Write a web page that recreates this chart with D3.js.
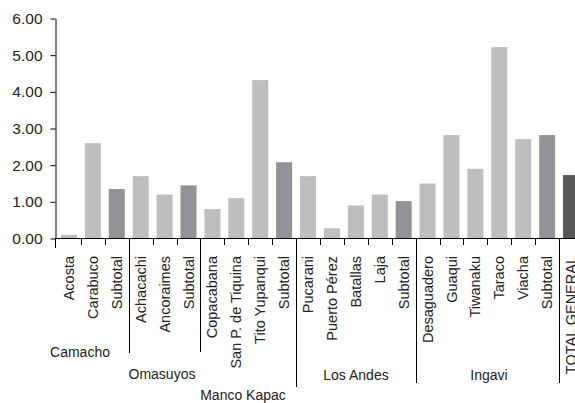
<!DOCTYPE html>
<html><head><meta charset="utf-8">
<script src="https://cdn.jsdelivr.net/npm/d3@7"></script>
<style>body{margin:0;background:#fff}svg{display:block}</style>
</head><body>
<script>
const categories = ["Acosta","Carabuco","Subtotal","Achacachi","Ancoraimes","Subtotal","Copacabana","San P. de Tiquina","Tito Yupanqui","Subtotal","Pucarani","Puerto Pérez","Batallas","Laja","Subtotal","Desaguadero","Guaqui","Tiwanaku","Taraco","Viacha","Subtotal","TOTAL GENERAL"];
const values = [0.1,2.6,1.35,1.7,1.2,1.45,0.8,1.1,4.32,2.08,1.7,0.28,0.9,1.2,1.02,1.5,2.82,1.9,5.22,2.71,2.82,1.73];
const kinds = ["m","m","s","m","m","s","m","m","m","s","m","m","m","m","s","m","m","m","m","m","s","t"];
const groups = ["Camacho","Omasuyos","Manco Kapac","Los Andes","Ingavi"];
const groupStart = [0,3,6,10,15];
const groupEnd = [3,6,10,15,21];
const yTicks = [0,1,2,3,4,5,6];

const W=575,H=403;
const svg=d3.select("body").append("svg").attr("width",W).attr("height",H);
const font="'Liberation Sans', Arial, sans-serif";
const colors={m:"#bdbec0",s:"#929396",t:"#58585a"};

const x=d3.scaleBand().domain(d3.range(categories.length)).range([57,583]).paddingInner(0.33).paddingOuter(0.165);
const y=d3.scaleLinear().domain([0,6]).range([238.5,18.5]);
const step=x.step();
const bnd=k=>57+k*step;

svg.selectAll("rect.bar").data(values).join("rect")
  .attr("x",(d,i)=>x(i)).attr("width",x.bandwidth())
  .attr("y",d=>y(d)).attr("height",d=>y(0)-y(d))
  .attr("fill",(d,i)=>colors[kinds[i]]);

// y axis
const ya=svg.append("g").attr("transform","translate(55.5,0)")
  .call(d3.axisLeft(y).tickValues(yTicks).tickFormat(d3.format(".2f")).tickSize(5).tickSizeOuter(0));
ya.select(".domain").attr("stroke","#000");
ya.selectAll(".tick line").attr("stroke","#000");
ya.selectAll(".tick text").attr("x",-13).attr("font-family",font).attr("font-size","15.5px").attr("fill","#222");
svg.append("line").attr("x1",55.5).attr("x2",55.5).attr("y1",238).attr("y2",248).attr("stroke","#000");

// x axis baseline
svg.append("line").attr("x1",55).attr("x2",W).attr("y1",238.5).attr("y2",238.5).attr("stroke","#000");

// band boundary ticks
const sepLen={3:353,6:352,10:387,15:383,21:383};
for(let k=1;k<=categories.length;k++){
  const xx=Math.round(bnd(k))+0.5;
  svg.append("line").attr("x1",xx).attr("x2",xx).attr("y1",238).attr("y2",sepLen[k]||245).attr("stroke","#000");
}

// category labels
svg.selectAll("text.cat").data(categories).join("text")
  .attr("transform",(d,i)=>`translate(${x(i)+x.bandwidth()/2},256) rotate(-90)`)
  .attr("dy","0.35em").attr("text-anchor","end")
  .attr("font-family",font).attr("font-size","14.5px").attr("fill","#222")
  .text(d=>d);

// group labels
const gx=[80,162,243,356,489];
const gy=[357,379,400,380,380];
svg.selectAll("text.grp").data(groups).join("text")
  .attr("x",(d,i)=>gx[i]).attr("y",(d,i)=>gy[i]).attr("text-anchor","middle")
  .attr("font-family",font).attr("font-size","14px").attr("fill","#222")
  .text(d=>d);
</script>
</body></html>
